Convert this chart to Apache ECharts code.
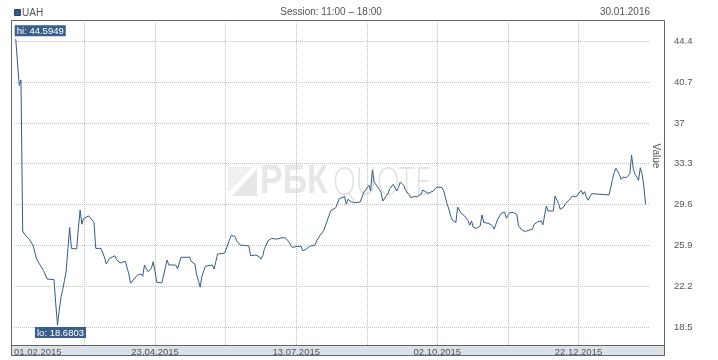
<!DOCTYPE html>
<html><head><meta charset="utf-8">
<script src="https://cdn.jsdelivr.net/npm/echarts@6/dist/echarts.min.js"></script>
<style>html,body{margin:0;padding:0;background:#fff}#c{width:718px;height:360px}</style>
</head><body><div id="c"></div>
<script>
const seriesName = 'UAH';
const sessionText = 'Session: 11:00 – 18:00';
const lastDateText = '30.01.2016';
const axisTitle = 'Value';
const watermarkA = 'РБК';
const watermarkB = 'QUOTE';
const xStart = '2015-02-01';
const xEnd = '2016-02-01';
const yMin = 16.87;
const yMax = 46.33;
const yTicks = [18.5, 22.2, 25.9, 29.6, 33.3, 37, 40.7, 44.4];

const dates = [
'2015-02-02','2015-02-03','2015-02-04','2015-02-05','2015-02-06','2015-02-07','2015-02-10','2015-02-12','2015-02-14','2015-02-16',
'2015-02-18','2015-02-20','2015-02-24','2015-02-25','2015-02-26','2015-02-27','2015-02-28','2015-03-01','2015-03-02','2015-03-03',
'2015-03-04','2015-03-05','2015-03-06','2015-03-09','2015-03-10','2015-03-11','2015-03-12','2015-03-13','2015-03-16','2015-03-17',
'2015-03-19','2015-03-20','2015-03-23','2015-03-25','2015-03-26','2015-03-28','2015-03-31','2015-04-01','2015-04-03','2015-04-06',
'2015-04-08','2015-04-09','2015-04-10','2015-04-13','2015-04-15','2015-04-16','2015-04-17','2015-04-19','2015-04-21','2015-04-22',
'2015-04-23','2015-04-24','2015-04-27','2015-04-30','2015-05-01','2015-05-05','2015-05-06','2015-05-08','2015-05-13','2015-05-14',
'2015-05-16','2015-05-17','2015-05-18','2015-05-19','2015-05-20','2015-05-22','2015-05-26','2015-05-27','2015-05-29','2015-05-30',
'2015-06-02','2015-06-03','2015-06-05','2015-06-06','2015-06-08','2015-06-09','2015-06-11','2015-06-16','2015-06-17','2015-06-18',
'2015-06-20','2015-06-22','2015-06-23','2015-06-24','2015-06-25','2015-06-26','2015-06-27','2015-06-29','2015-06-30','2015-07-02',
'2015-07-05','2015-07-07','2015-07-09','2015-07-10','2015-07-11','2015-07-12','2015-07-14','2015-07-15','2015-07-16','2015-07-17',
'2015-07-19','2015-07-21','2015-07-24','2015-07-25','2015-07-27','2015-07-29','2015-07-30','2015-07-31','2015-08-02','2015-08-03',
'2015-08-05','2015-08-07','2015-08-08','2015-08-10','2015-08-11','2015-08-12','2015-08-14','2015-08-16','2015-08-19','2015-08-21',
'2015-08-23','2015-08-24','2015-08-25','2015-08-26','2015-08-27','2015-08-28','2015-08-30','2015-08-31','2015-09-01','2015-09-03',
'2015-09-04','2015-09-05','2015-09-07','2015-09-09','2015-09-10','2015-09-11','2015-09-13','2015-09-14','2015-09-16','2015-09-17',
'2015-09-19','2015-09-21','2015-09-23','2015-09-24','2015-09-25','2015-09-27','2015-09-28','2015-09-30','2015-10-01','2015-10-02',
'2015-10-05','2015-10-06','2015-10-08','2015-10-09','2015-10-10','2015-10-11','2015-10-13','2015-10-14','2015-10-16','2015-10-18',
'2015-10-20','2015-10-21','2015-10-22','2015-10-23','2015-10-25','2015-10-27','2015-10-28','2015-10-29','2015-11-01','2015-11-03',
'2015-11-04','2015-11-05','2015-11-06','2015-11-08','2015-11-10','2015-11-11','2015-11-12','2015-11-13','2015-11-15','2015-11-17',
'2015-11-18','2015-11-20','2015-11-22','2015-11-24','2015-11-26','2015-11-27','2015-11-29','2015-12-01','2015-12-02','2015-12-04',
'2015-12-05','2015-12-08','2015-12-09','2015-12-10','2015-12-11','2015-12-12','2015-12-14','2015-12-15','2015-12-17','2015-12-19',
'2015-12-21','2015-12-22','2015-12-24','2015-12-25','2015-12-26','2015-12-27','2015-12-28','2015-12-29','2015-12-30','2015-12-31',
'2016-01-09','2016-01-10','2016-01-11','2016-01-12','2016-01-13','2016-01-14','2016-01-15','2016-01-16','2016-01-17','2016-01-18',
'2016-01-19','2016-01-20','2016-01-21','2016-01-22','2016-01-23','2016-01-24','2016-01-25','2016-01-26','2016-01-27','2016-01-28',
'2016-01-29','2016-01-30'
];

const values = [
44.5949,42.5,40.4,40.9,27.2,26.92,26.41,25.86,24.66,24.12,
23.61,22.85,22.80,20.6,18.6803,20.0,21.2,21.9,22.7,23.6,
25.6,27.52,25.63,25.57,27.43,29.11,27.82,28.34,28.57,28.43,
27.98,25.63,25.63,24.82,24.21,24.73,24.96,24.60,24.30,24.46,
23.31,22.47,22.34,23.22,23.31,23.10,24.12,23.52,23.82,24.42,
23.61,22.56,22.50,24.57,24.12,24.12,23.76,24.82,24.82,24.42,
24.21,23.22,22.70,22.11,23.10,24.00,24.12,23.76,25.11,25.20,
25.20,25.57,26.47,26.80,26.71,26.31,25.93,25.86,24.96,25.11,
25.02,24.87,24.66,24.96,25.63,25.93,26.31,26.53,26.62,26.47,
26.59,26.59,26.22,25.93,25.72,25.63,25.81,25.63,25.81,25.41,
25.57,25.81,25.93,26.31,26.83,27.22,27.22,28.12,29.02,29.18,
29.33,30.14,30.32,30.32,29.63,30.08,29.83,29.78,29.83,30.68,
31.13,31.34,30.83,32.72,31.64,31.59,30.98,30.68,29.92,30.38,
30.59,31.04,31.43,30.83,31.13,31.64,31.34,30.92,30.53,30.23,
30.32,30.32,30.53,30.92,30.74,30.62,30.45,30.83,30.89,31.19,
31.13,30.83,29.63,29.18,28.57,28.18,27.98,29.38,28.81,28.57,
28.12,27.73,28.12,27.52,27.46,27.67,28.66,27.98,27.89,27.67,
27.37,27.52,28.27,28.79,28.93,28.36,28.66,28.88,28.88,28.72,
27.67,27.28,27.16,27.28,27.37,27.82,28.03,28.12,27.76,29.47,
29.02,29.02,30.38,30.47,29.69,29.18,29.38,29.69,29.99,30.38,
30.29,30.47,30.89,30.53,30.77,30.29,29.99,30.29,30.59,30.47,
30.47,31.13,31.88,32.49,32.88,32.88,32.33,31.88,32.09,32.27,
32.04,31.88,32.40,34.08,32.79,32.33,32.09,31.79,32.94,32.40,
31.30,29.63
];

const FONT = '"Liberation Sans", Arial, sans-serif';
const LINE = '#335b86';
const TXT = '#555';
const t0 = Date.parse(xStart), t1 = Date.parse(xEnd);
const step = (t1 - t0) / 9;
const gridTicks = [1,2,3,4,5,6,7,8].map(k => t0 + k * step);
const labelTicks = [0,2,4,6,8].map(k => t0 + k * step);
const pad = n => (n < 10 ? '0' : '') + n;
const fmtDate = ts => { const d = new Date(ts); return pad(d.getUTCDate()) + '.' + pad(d.getUTCMonth() + 1) + '.' + d.getUTCFullYear(); };
const seriesData = dates.map((d, i) => [Date.parse(d), values[i]]);
const gridLine = { show: true, lineStyle: { color: '#c2c2c2', width: 1, type: [1, 1] } };

const chart = echarts.init(document.getElementById('c'), null, { renderer: 'canvas' });
chart.setOption({
  animation: false,
  grid: { left: 14, right: 69, top: 20, bottom: 15, containLabel: false },
  xAxis: {
    type: 'value', min: t0, max: t1,
    axisLine: { show: false },
    axisTick: { show: false, customValues: gridTicks },
    splitLine: gridLine,
    axisLabel: { customValues: labelTicks, formatter: fmtDate, color: TXT, fontSize: 9.5, fontFamily: FONT, margin: 2, alignMinLabel: 'left' }
  },
  yAxis: {
    type: 'value', position: 'right', min: yMin, max: yMax,
    axisLine: { show: false },
    axisTick: { show: false, customValues: yTicks },
    splitLine: gridLine,
    axisLabel: { customValues: yTicks, color: TXT, fontSize: 9.5, fontFamily: FONT, margin: 25 }
  },
  series: [{
    type: 'line', name: seriesName, data: seriesData,
    showSymbol: false, symbol: 'none',
    lineStyle: { color: LINE, width: 1 },
    z: 5,
    markPoint: {
      symbol: 'circle', symbolSize: 0, silent: true,
      data: [
        { type: 'max', label: { show: true, formatter: p => 'hi: ' + p.value, position: [-1, -3], align: 'left', verticalAlign: 'bottom' } },
        { type: 'min', label: { show: true, formatter: p => 'lo: ' + p.value, position: [3, 2], align: 'center', verticalAlign: 'top' } }
      ],
      label: { color: '#fff', backgroundColor: '#3a5f8a', fontSize: 9.5, fontFamily: FONT, padding: [1, 2, 0, 2], lineHeight: 10 }
    }
  }],
  graphic: [
    { type: 'rect', z: -10, shape: { x: 11.5, y: 345.5, width: 653, height: 10 }, style: { fill: '#d9e0e7', stroke: '#666', lineWidth: 1 } },
    { type: 'rect', z: 100, shape: { x: 11.5, y: 20.5, width: 653, height: 335 }, style: { fill: null, stroke: '#666', lineWidth: 1 } },
    { type: 'polygon', z: -5, shape: { points: [[228, 167], [253, 167], [228, 193]] }, style: { fill: '#f0f0f0' } },
    { type: 'polygon', z: -5, shape: { points: [[232, 196], [257, 169], [257, 196]] }, style: { fill: '#e6e6e6' } },
    { type: 'text', z: -5, x: 260, y: 182, scaleX: 0.85, style: { text: watermarkA, font: 'bold 40px ' + FONT, fill: '#e7e7e7', verticalAlign: 'middle', align: 'left' } },
    { type: 'text', z: -5, x: 333, y: 182, scaleX: 0.72, style: { text: watermarkB, font: '300 40px Lato, "Open Sans", sans-serif', fill: '#e2e2e2', verticalAlign: 'middle', align: 'left' } },
    { type: 'rect', shape: { x: 14.5, y: 9.5, width: 6, height: 6 }, style: { fill: LINE, stroke: '#2a4566', lineWidth: 1 } },
    { type: 'text', x: 22, y: 13, style: { text: seriesName, font: '10px ' + FONT, fill: TXT, verticalAlign: 'middle' } },
    { type: 'text', x: 331, y: 12.5, style: { text: sessionText, font: '10px ' + FONT, fill: TXT, verticalAlign: 'middle', align: 'center' } },
    { type: 'text', x: 650, y: 12.5, style: { text: lastDateText, font: '10px ' + FONT, fill: TXT, verticalAlign: 'middle', align: 'right' } },
    { type: 'text', x: 656, y: 156, rotation: -Math.PI / 2, style: { text: axisTitle, font: '10px ' + FONT, fill: TXT, verticalAlign: 'middle', align: 'center' } }
  ]
});
</script>
</body></html>
